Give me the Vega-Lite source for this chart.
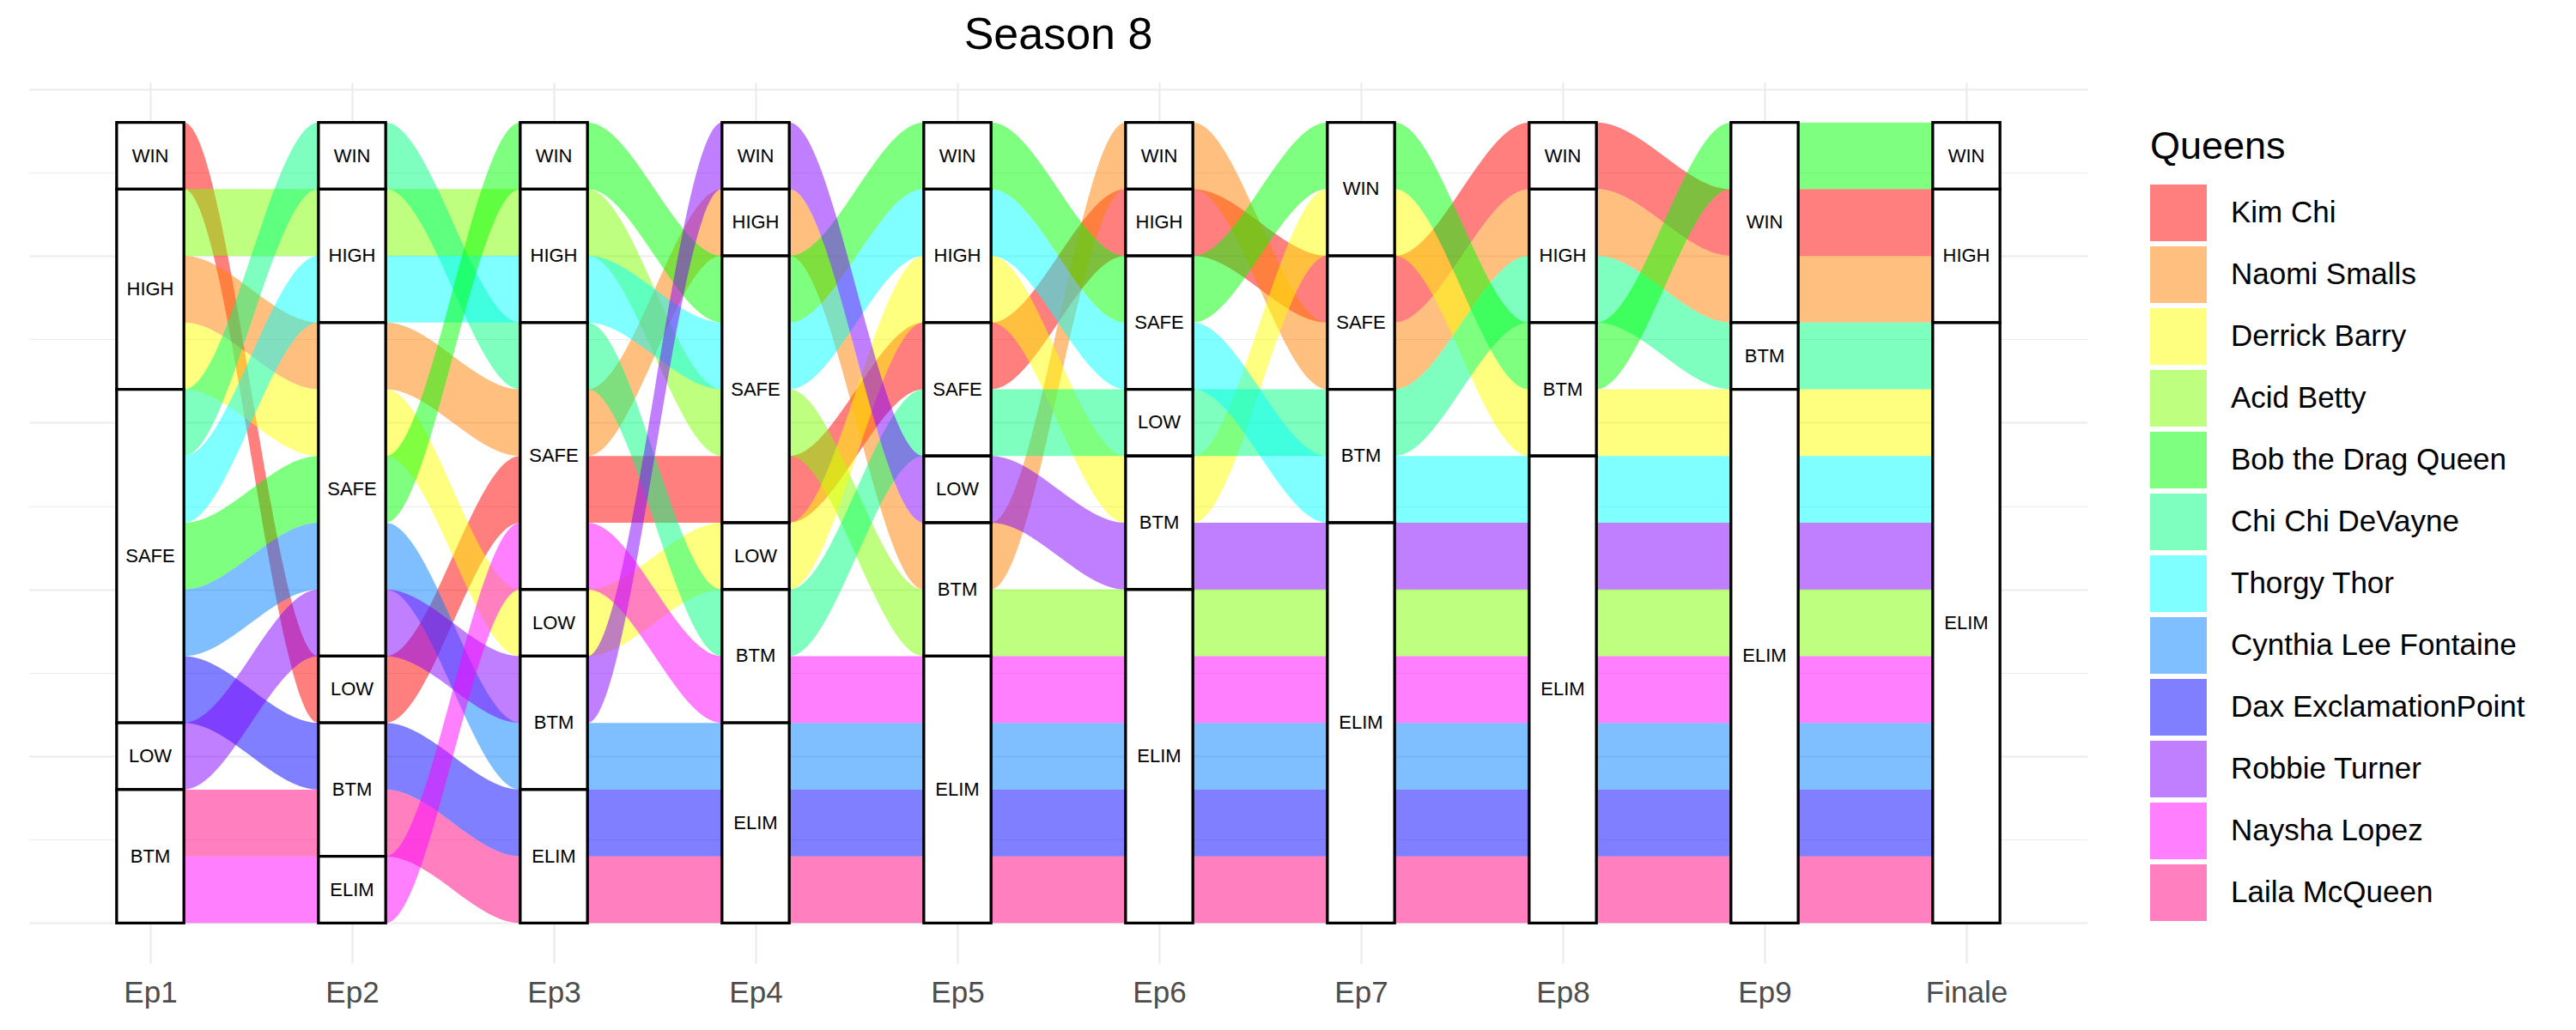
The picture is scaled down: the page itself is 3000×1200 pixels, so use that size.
{
  "$schema": "https://vega.github.io/schema/vega-lite/v6.json",
  "width": 2397,
  "height": 1026,
  "autosize": {"type": "none"},
  "padding": {"left": 34, "top": 96, "right": 569, "bottom": 78},
  "background": "white",
  "title": {"text": "Season 8", "fontSize": 52, "font": "Liberation Sans", "fontWeight": "normal", "color": "black", "anchor": "middle", "frame": "group", "baseline": "alphabetic", "offset": -13},
  "config": {"view": {"stroke": null}, "font": "Liberation Sans"},
  "datasets": {
    "s8": [
      {"q": "Kim Chi", "ep": 1, "r": "WIN", "k": 1},
      {"q": "Acid Betty", "ep": 1, "r": "HIGH", "k": 2},
      {"q": "Naomi Smalls", "ep": 1, "r": "HIGH", "k": 3},
      {"q": "Derrick Barry", "ep": 1, "r": "HIGH", "k": 4},
      {"q": "Chi Chi DeVayne", "ep": 1, "r": "SAFE", "k": 5},
      {"q": "Thorgy Thor", "ep": 1, "r": "SAFE", "k": 6},
      {"q": "Bob the Drag Queen", "ep": 1, "r": "SAFE", "k": 7},
      {"q": "Cynthia Lee Fontaine", "ep": 1, "r": "SAFE", "k": 8},
      {"q": "Dax ExclamationPoint", "ep": 1, "r": "SAFE", "k": 9},
      {"q": "Robbie Turner", "ep": 1, "r": "LOW", "k": 10},
      {"q": "Laila McQueen", "ep": 1, "r": "BTM", "k": 11},
      {"q": "Naysha Lopez", "ep": 1, "r": "BTM", "k": 12},

      {"q": "Chi Chi DeVayne", "ep": 2, "r": "WIN", "k": 1},
      {"q": "Acid Betty", "ep": 2, "r": "HIGH", "k": 2},
      {"q": "Thorgy Thor", "ep": 2, "r": "HIGH", "k": 3},
      {"q": "Naomi Smalls", "ep": 2, "r": "SAFE", "k": 4},
      {"q": "Derrick Barry", "ep": 2, "r": "SAFE", "k": 5},
      {"q": "Bob the Drag Queen", "ep": 2, "r": "SAFE", "k": 6},
      {"q": "Cynthia Lee Fontaine", "ep": 2, "r": "SAFE", "k": 7},
      {"q": "Robbie Turner", "ep": 2, "r": "SAFE", "k": 8},
      {"q": "Kim Chi", "ep": 2, "r": "LOW", "k": 9},
      {"q": "Dax ExclamationPoint", "ep": 2, "r": "BTM", "k": 10},
      {"q": "Laila McQueen", "ep": 2, "r": "BTM", "k": 11},
      {"q": "Naysha Lopez", "ep": 2, "r": "ELIM", "k": 12},

      {"q": "Bob the Drag Queen", "ep": 3, "r": "WIN", "k": 1},
      {"q": "Acid Betty", "ep": 3, "r": "HIGH", "k": 2},
      {"q": "Thorgy Thor", "ep": 3, "r": "HIGH", "k": 3},
      {"q": "Chi Chi DeVayne", "ep": 3, "r": "SAFE", "k": 4},
      {"q": "Naomi Smalls", "ep": 3, "r": "SAFE", "k": 5},
      {"q": "Kim Chi", "ep": 3, "r": "SAFE", "k": 6},
      {"q": "Naysha Lopez", "ep": 3, "r": "SAFE", "k": 7},
      {"q": "Derrick Barry", "ep": 3, "r": "LOW", "k": 8},
      {"q": "Robbie Turner", "ep": 3, "r": "BTM", "k": 9},
      {"q": "Cynthia Lee Fontaine", "ep": 3, "r": "BTM", "k": 10},
      {"q": "Dax ExclamationPoint", "ep": 3, "r": "ELIM", "k": 11},
      {"q": "Laila McQueen", "ep": 3, "r": "ELIM", "k": 12},

      {"q": "Robbie Turner", "ep": 4, "r": "WIN", "k": 1},
      {"q": "Naomi Smalls", "ep": 4, "r": "HIGH", "k": 2},
      {"q": "Bob the Drag Queen", "ep": 4, "r": "SAFE", "k": 3},
      {"q": "Thorgy Thor", "ep": 4, "r": "SAFE", "k": 4},
      {"q": "Acid Betty", "ep": 4, "r": "SAFE", "k": 5},
      {"q": "Kim Chi", "ep": 4, "r": "SAFE", "k": 6},
      {"q": "Derrick Barry", "ep": 4, "r": "LOW", "k": 7},
      {"q": "Chi Chi DeVayne", "ep": 4, "r": "BTM", "k": 8},
      {"q": "Naysha Lopez", "ep": 4, "r": "BTM", "k": 9},
      {"q": "Cynthia Lee Fontaine", "ep": 4, "r": "ELIM", "k": 10},
      {"q": "Dax ExclamationPoint", "ep": 4, "r": "ELIM", "k": 11},
      {"q": "Laila McQueen", "ep": 4, "r": "ELIM", "k": 12},

      {"q": "Bob the Drag Queen", "ep": 5, "r": "WIN", "k": 1},
      {"q": "Thorgy Thor", "ep": 5, "r": "HIGH", "k": 2},
      {"q": "Derrick Barry", "ep": 5, "r": "HIGH", "k": 3},
      {"q": "Kim Chi", "ep": 5, "r": "SAFE", "k": 4},
      {"q": "Chi Chi DeVayne", "ep": 5, "r": "SAFE", "k": 5},
      {"q": "Robbie Turner", "ep": 5, "r": "LOW", "k": 6},
      {"q": "Naomi Smalls", "ep": 5, "r": "BTM", "k": 7},
      {"q": "Acid Betty", "ep": 5, "r": "BTM", "k": 8},
      {"q": "Naysha Lopez", "ep": 5, "r": "ELIM", "k": 9},
      {"q": "Cynthia Lee Fontaine", "ep": 5, "r": "ELIM", "k": 10},
      {"q": "Dax ExclamationPoint", "ep": 5, "r": "ELIM", "k": 11},
      {"q": "Laila McQueen", "ep": 5, "r": "ELIM", "k": 12},

      {"q": "Naomi Smalls", "ep": 6, "r": "WIN", "k": 1},
      {"q": "Kim Chi", "ep": 6, "r": "HIGH", "k": 2},
      {"q": "Bob the Drag Queen", "ep": 6, "r": "SAFE", "k": 3},
      {"q": "Thorgy Thor", "ep": 6, "r": "SAFE", "k": 4},
      {"q": "Chi Chi DeVayne", "ep": 6, "r": "LOW", "k": 5},
      {"q": "Derrick Barry", "ep": 6, "r": "BTM", "k": 6},
      {"q": "Robbie Turner", "ep": 6, "r": "BTM", "k": 7},
      {"q": "Acid Betty", "ep": 6, "r": "ELIM", "k": 8},
      {"q": "Naysha Lopez", "ep": 6, "r": "ELIM", "k": 9},
      {"q": "Cynthia Lee Fontaine", "ep": 6, "r": "ELIM", "k": 10},
      {"q": "Dax ExclamationPoint", "ep": 6, "r": "ELIM", "k": 11},
      {"q": "Laila McQueen", "ep": 6, "r": "ELIM", "k": 12},

      {"q": "Bob the Drag Queen", "ep": 7, "r": "WIN", "k": 1},
      {"q": "Derrick Barry", "ep": 7, "r": "WIN", "k": 2},
      {"q": "Kim Chi", "ep": 7, "r": "SAFE", "k": 3},
      {"q": "Naomi Smalls", "ep": 7, "r": "SAFE", "k": 4},
      {"q": "Chi Chi DeVayne", "ep": 7, "r": "BTM", "k": 5},
      {"q": "Thorgy Thor", "ep": 7, "r": "BTM", "k": 6},
      {"q": "Robbie Turner", "ep": 7, "r": "ELIM", "k": 7},
      {"q": "Acid Betty", "ep": 7, "r": "ELIM", "k": 8},
      {"q": "Naysha Lopez", "ep": 7, "r": "ELIM", "k": 9},
      {"q": "Cynthia Lee Fontaine", "ep": 7, "r": "ELIM", "k": 10},
      {"q": "Dax ExclamationPoint", "ep": 7, "r": "ELIM", "k": 11},
      {"q": "Laila McQueen", "ep": 7, "r": "ELIM", "k": 12},

      {"q": "Kim Chi", "ep": 8, "r": "WIN", "k": 1},
      {"q": "Naomi Smalls", "ep": 8, "r": "HIGH", "k": 2},
      {"q": "Chi Chi DeVayne", "ep": 8, "r": "HIGH", "k": 3},
      {"q": "Bob the Drag Queen", "ep": 8, "r": "BTM", "k": 4},
      {"q": "Derrick Barry", "ep": 8, "r": "BTM", "k": 5},
      {"q": "Thorgy Thor", "ep": 8, "r": "ELIM", "k": 6},
      {"q": "Robbie Turner", "ep": 8, "r": "ELIM", "k": 7},
      {"q": "Acid Betty", "ep": 8, "r": "ELIM", "k": 8},
      {"q": "Naysha Lopez", "ep": 8, "r": "ELIM", "k": 9},
      {"q": "Cynthia Lee Fontaine", "ep": 8, "r": "ELIM", "k": 10},
      {"q": "Dax ExclamationPoint", "ep": 8, "r": "ELIM", "k": 11},
      {"q": "Laila McQueen", "ep": 8, "r": "ELIM", "k": 12},

      {"q": "Bob the Drag Queen", "ep": 9, "r": "WIN", "k": 1},
      {"q": "Kim Chi", "ep": 9, "r": "WIN", "k": 2},
      {"q": "Naomi Smalls", "ep": 9, "r": "WIN", "k": 3},
      {"q": "Chi Chi DeVayne", "ep": 9, "r": "BTM", "k": 4},
      {"q": "Derrick Barry", "ep": 9, "r": "ELIM", "k": 5},
      {"q": "Thorgy Thor", "ep": 9, "r": "ELIM", "k": 6},
      {"q": "Robbie Turner", "ep": 9, "r": "ELIM", "k": 7},
      {"q": "Acid Betty", "ep": 9, "r": "ELIM", "k": 8},
      {"q": "Naysha Lopez", "ep": 9, "r": "ELIM", "k": 9},
      {"q": "Cynthia Lee Fontaine", "ep": 9, "r": "ELIM", "k": 10},
      {"q": "Dax ExclamationPoint", "ep": 9, "r": "ELIM", "k": 11},
      {"q": "Laila McQueen", "ep": 9, "r": "ELIM", "k": 12},

      {"q": "Bob the Drag Queen", "ep": 10, "r": "WIN", "k": 1},
      {"q": "Kim Chi", "ep": 10, "r": "HIGH", "k": 2},
      {"q": "Naomi Smalls", "ep": 10, "r": "HIGH", "k": 3},
      {"q": "Chi Chi DeVayne", "ep": 10, "r": "ELIM", "k": 4},
      {"q": "Derrick Barry", "ep": 10, "r": "ELIM", "k": 5},
      {"q": "Thorgy Thor", "ep": 10, "r": "ELIM", "k": 6},
      {"q": "Robbie Turner", "ep": 10, "r": "ELIM", "k": 7},
      {"q": "Acid Betty", "ep": 10, "r": "ELIM", "k": 8},
      {"q": "Naysha Lopez", "ep": 10, "r": "ELIM", "k": 9},
      {"q": "Cynthia Lee Fontaine", "ep": 10, "r": "ELIM", "k": 10},
      {"q": "Dax ExclamationPoint", "ep": 10, "r": "ELIM", "k": 11},
      {"q": "Laila McQueen", "ep": 10, "r": "ELIM", "k": 12}
    ]
  },
  "layer": [
    {
      "data": {"name": "s8"},
      "transform": [
        {"calculate": "1", "as": "n"},
        {"stack": "n", "groupby": ["ep"], "sort": [{"field": "k", "order": "descending"}], "as": ["y0", "y1"]},
        {"calculate": "[-1, 1]", "as": "side"},
        {"flatten": ["side"]},
        {"calculate": "datum.ep + datum.side / 6", "as": "x"}
      ],
      "mark": {"type": "area", "interpolate": "monotone", "opacity": 0.5},
      "encoding": {
        "x": {
          "field": "x", "type": "quantitative", "title": null,
          "scale": {"domain": [0.4, 10.6], "nice": false, "zero": false},
          "axis": {
            "values": [1, 2, 3, 4, 5, 6, 7, 8, 9, 10],
            "labelExpr": "datum.value == 10 ? 'Finale' : 'Ep' + datum.value",
            "labelFontSize": 35, "labelColor": "#4D4D4D", "labelFont": "Liberation Sans",
            "labelPadding": 17, "ticks": false, "tickSize": 0, "domain": false,
            "grid": true, "gridColor": "#EBEBEB", "gridWidth": 2.2, "labelFlush": false
          }
        },
        "y": {
          "field": "y0", "type": "quantitative", "stack": null, "title": null,
          "scale": {"domain": [-0.6, 12.6], "nice": false, "zero": false},
          "axis": {
            "values": [0, 1.25, 2.5, 3.75, 5, 6.25, 7.5, 8.75, 10, 11.25, 12.5],
            "labels": false, "ticks": false, "domain": false, "grid": true,
            "gridColor": "#EBEBEB",
            "gridWidth": {"condition": {"test": "datum.value % 2.5 === 0", "value": 2.2}, "value": 1.1}
          }
        },
        "y2": {"field": "y1"},
        "color": {
          "field": "q", "type": "nominal",
          "scale": {
            "domain": ["Kim Chi", "Naomi Smalls", "Derrick Barry", "Acid Betty", "Bob the Drag Queen", "Chi Chi DeVayne", "Thorgy Thor", "Cynthia Lee Fontaine", "Dax ExclamationPoint", "Robbie Turner", "Naysha Lopez", "Laila McQueen"],
            "range": ["#FF0000", "#FF8000", "#FFFF00", "#80FF00", "#00FF00", "#00FF80", "#00FFFF", "#0080FF", "#0000FF", "#8000FF", "#FF00FF", "#FF0080"]
          },
          "legend": {
            "title": "Queens", "orient": "none", "legendX": 2470, "legendY": 53, "padding": 0,
            "titleFontSize": 45, "titleFont": "Liberation Sans", "titleFontWeight": "normal", "titleColor": "black", "titlePadding": 21,
            "labelFontSize": 35, "labelFont": "Liberation Sans", "labelColor": "black", "labelOffset": 28, "labelLimit": 1000,
            "symbolType": "square", "symbolSize": 4356, "symbolStrokeWidth": 0, "symbolOpacity": 0.5, "rowPadding": 6
          }
        }
      }
    },
    {
      "data": {"name": "s8"},
      "transform": [
        {"calculate": "1", "as": "n"},
        {"stack": "n", "groupby": ["ep"], "sort": [{"field": "k", "order": "descending"}], "as": ["y0", "y1"]},
        {"aggregate": [{"op": "min", "field": "y0", "as": "lo"}, {"op": "max", "field": "y1", "as": "hi"}], "groupby": ["ep", "r"]},
        {"calculate": "datum.ep - 1/6", "as": "xl"},
        {"calculate": "datum.ep + 1/6", "as": "xr"}
      ],
      "mark": {"type": "rect", "fill": "white", "stroke": "black", "strokeWidth": 3.3},
      "encoding": {
        "x": {"field": "xl", "type": "quantitative", "title": null},
        "x2": {"field": "xr"},
        "y": {"field": "lo", "type": "quantitative", "title": null},
        "y2": {"field": "hi"}
      }
    },
    {
      "data": {"name": "s8"},
      "transform": [
        {"calculate": "1", "as": "n"},
        {"stack": "n", "groupby": ["ep"], "sort": [{"field": "k", "order": "descending"}], "as": ["y0", "y1"]},
        {"aggregate": [{"op": "min", "field": "y0", "as": "lo"}, {"op": "max", "field": "y1", "as": "hi"}], "groupby": ["ep", "r"]},
        {"calculate": "(datum.lo + datum.hi) / 2", "as": "ym"}
      ],
      "mark": {"type": "text", "fontSize": 22, "color": "black", "font": "Liberation Sans", "baseline": "middle", "align": "center"},
      "encoding": {
        "x": {"field": "ep", "type": "quantitative", "title": null},
        "y": {"field": "ym", "type": "quantitative", "title": null},
        "text": {"field": "r"}
      }
    }
  ]
}
